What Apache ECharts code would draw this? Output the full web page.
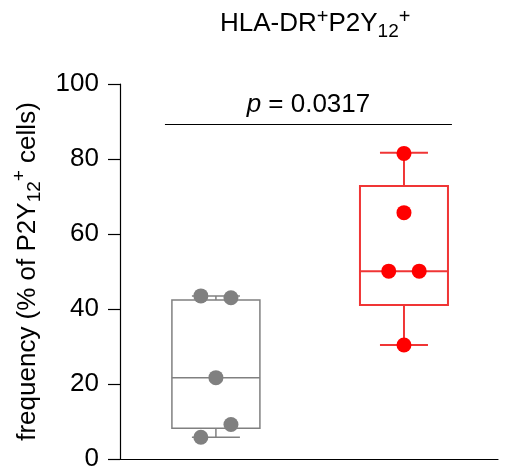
<!DOCTYPE html>
<html>
<head>
<meta charset="utf-8">
<script src="https://cdn.jsdelivr.net/npm/echarts@6/dist/echarts.min.js"></script>
<style>
html,body{margin:0;padding:0;background:#fff;}
#chart{width:508px;height:473px;}
</style>
</head>
<body>
<div id="chart"></div>
<script>
// ---- data ----
const groups = ['group 1', 'group 2'];
const groupX = [1, 2];
// box stats: [min, Q1, median, Q3, max]
const grayStats = [5.8, 8.2, 21.7, 42.4, 43.5];
const redStats = [30.4, 41.1, 50.1, 72.8, 81.7];
// individual points
const grayValues = [43.5, 43.0, 21.7, 9.2, 5.8];
const grayJitter = [-0.08, 0.08, 0, 0.08, -0.08];
const redValues = [81.5, 65.7, 50.1, 50.1, 30.4];
const redJitter = [0, 0, -0.081, 0.081, 0];
const yTicks = [0, 20, 40, 60, 80, 100];
const pValueText = '0.0317';
const sigBar = { x1: 0.729, x2: 2.255, y: 89.3 };

const FONT = '"Liberation Sans", Arial, sans-serif';
const boxColors = ['#808080', '#f03535'];
const pointColors = ['#808080', '#ff0000'];

const chart = echarts.init(document.getElementById('chart'));

const boxData = [
  [groupX[0]].concat(grayStats),
  [groupX[1]].concat(redStats)
];

function renderBox(params, api) {
  const x = api.value(0);
  const pMin = api.coord([x, api.value(1)]);
  const pQ1 = api.coord([x, api.value(2)]);
  const pMed = api.coord([x, api.value(3)]);
  const pQ3 = api.coord([x, api.value(4)]);
  const pMax = api.coord([x, api.value(5)]);
  const cx = pMed[0];
  const halfW = 44;
  const capHalf = 24;
  const color = boxColors[params.dataIndex];
  const lw = params.dataIndex === 0 ? 1.5 : 2;
  const st = { stroke: color, lineWidth: lw, fill: null };
  return {
    type: 'group',
    children: [
      { type: 'rect', shape: { x: cx - halfW, y: pQ3[1], width: 2 * halfW, height: pQ1[1] - pQ3[1] }, style: Object.assign({}, st, { fill: 'rgba(0,0,0,0)' }) },
      { type: 'line', shape: { x1: cx - halfW, y1: pMed[1], x2: cx + halfW, y2: pMed[1] }, style: st },
      { type: 'line', shape: { x1: cx, y1: pQ3[1], x2: cx, y2: pMax[1] }, style: st },
      { type: 'line', shape: { x1: cx, y1: pQ1[1], x2: cx, y2: pMin[1] }, style: st },
      { type: 'line', shape: { x1: cx - capHalf, y1: pMax[1], x2: cx + capHalf, y2: pMax[1] }, style: st },
      { type: 'line', shape: { x1: cx - capHalf, y1: pMin[1], x2: cx + capHalf, y2: pMin[1] }, style: st }
    ]
  };
}

const option = {
  animation: false,
  backgroundColor: '#fff',
  title: {
    text: 'HLA-DR{sup|+}P2Y{sub|12}{sup|+}',
    left: 220,
    top: 7,
    padding: 0,
    textStyle: {
      fontFamily: FONT, fontSize: 26, fontWeight: 'normal', color: '#000', lineHeight: 34,
      rich: {
        sup: { fontFamily: FONT, fontSize: 20, lineHeight: 24, verticalAlign: 'top', color: '#000' },
        sub: { fontFamily: FONT, fontSize: 19, lineHeight: 9, verticalAlign: 'bottom', color: '#000' }
      }
    }
  },
  grid: { left: 120, right: 10, top: 84, bottom: 14, containLabel: false },
  xAxis: {
    type: 'value', min: 0.49, max: 2.5,
    axisLine: { show: true, lineStyle: { color: '#000', width: 1.2 } },
    axisTick: { show: false }, axisLabel: { show: false }, splitLine: { show: false }
  },
  yAxis: {
    type: 'value', min: yTicks[0], max: yTicks[yTicks.length - 1], interval: 20,
    name: 'frequency (% of P2Y{sub|12}{sup|+} cells)',
    nameLocation: 'middle', nameRotate: 90, nameGap: 68,
    nameTextStyle: {
      fontFamily: FONT, fontSize: 26, color: '#000', lineHeight: 34,
      rich: {
        sup: { fontFamily: FONT, fontSize: 19, lineHeight: 6, verticalAlign: 'top', color: '#000' },
        sub: { fontFamily: FONT, fontSize: 19, lineHeight: 27, verticalAlign: 'bottom', color: '#000' }
      }
    },
    axisLine: { show: true, lineStyle: { color: '#000', width: 1.2 } },
    axisTick: { show: true, inside: false, length: 12, lineStyle: { color: '#000', width: 1.2 } },
    axisLabel: { fontFamily: FONT, fontSize: 26, color: '#000', margin: 21 },
    splitLine: { show: false }
  },
  series: [
    {
      type: 'custom', renderItem: renderBox, data: boxData, z: 2,
      encode: { x: 0, y: [1, 2, 3, 4, 5] }
    },
    {
      type: 'scatter', symbol: 'circle', symbolSize: 15, z: 5,
      itemStyle: { color: pointColors[0], opacity: 1 },
      data: grayValues.map((v, i) => [groupX[0] + grayJitter[i], v])
    },
    {
      type: 'scatter', symbol: 'circle', symbolSize: 15, z: 5,
      itemStyle: { color: pointColors[1], opacity: 1 },
      data: redValues.map((v, i) => [groupX[1] + redJitter[i], v])
    },
    {
      type: 'line', data: [], silent: true,
      markLine: {
        silent: true, symbol: 'none', animation: false,
        lineStyle: { color: '#000', width: 1.2, type: 'solid' },
        label: {
          show: true, position: 'middle', distance: 6,
          formatter: '{i|p} = ' + pValueText,
          fontFamily: FONT, fontSize: 26, color: '#000',
          rich: { i: { fontFamily: FONT, fontSize: 26, fontStyle: 'italic', color: '#000' } }
        },
        data: [[{ coord: [sigBar.x1, sigBar.y] }, { coord: [sigBar.x2, sigBar.y] }]]
      }
    }
  ]
};
chart.setOption(option);
</script>
</body>
</html>
